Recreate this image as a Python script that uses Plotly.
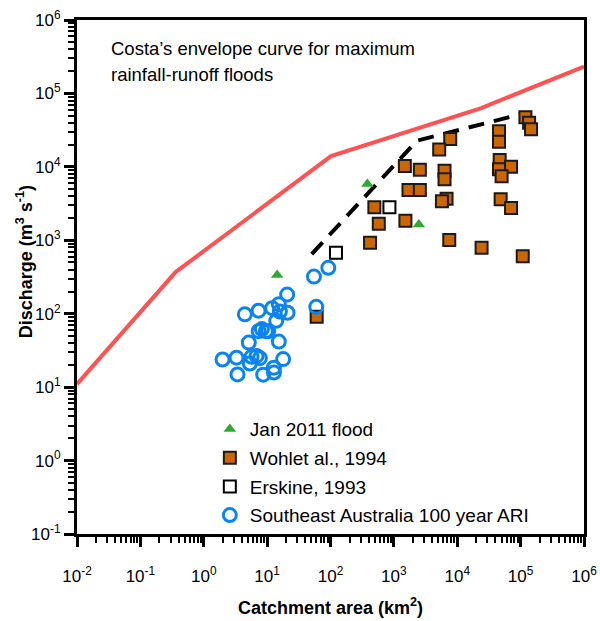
import plotly.graph_objects as go

# ---------------- data ----------------
costa_x = [0.01, 0.36, 102, 23900, 1e6]
costa_y = [11, 369, 14000, 63200, 232000]

dash_x = [50.5, 2310, 119000]
dash_y = [649, 22700, 54100]

jan2011_x = [14.4, 382, 2480]
jan2011_y = [336, 5830, 1640]

wohl_x = [119000, 136000, 146000, 45600, 45600, 7750, 5190, 46700, 1490, 2570,
          6300, 45600, 70600, 6300, 50100, 1700, 2570, 6780, 5730, 48400,
          70600, 492, 578, 1520, 421, 7480, 24200, 108000, 60.5]
wohl_y = [47200, 39900, 32400, 30500, 22000, 23900, 17300, 12400, 10300, 9130,
          8850, 9250, 10000, 6760, 7430, 4830, 4830, 3680, 3390, 3610,
          2750, 2810, 1680, 1840, 925, 1010, 790, 604, 90.8]

erskine_x = [122, 851]
erskine_y = [676, 2817]

sea_x = [54.8, 92.3, 20.7, 59.6, 4.45, 7.33, 12.0, 15.3, 15.9, 21.0,
         13.9, 8.26, 9.55, 10.4, 7.35, 15.3, 5.14, 1.98, 3.29, 5.68,
         6.81, 7.68, 5.34, 17.9, 3.41, 8.66, 12.8, 12.8]
sea_y = [320, 422, 182, 124, 98, 110, 119, 135, 107, 103,
         80, 61.7, 57.9, 57.9, 57.9, 41.7, 40.4, 23.8, 25.2, 25.9,
         26.6, 24.8, 21.0, 24.1, 14.9, 14.8, 18.4, 15.8]

x_exponents = [-2, -1, 0, 1, 2, 3, 4, 5, 6]
y_exponents = [-1, 0, 1, 2, 3, 4, 5, 6]

# ---------------- figure ----------------
FONT = "Liberation Sans, Arial, Helvetica, sans-serif"

fig = go.Figure()

fig.add_trace(go.Scatter(x=costa_x, y=costa_y, mode="lines",
                         line=dict(color="#ff5252", width=4),
                         showlegend=False, hoverinfo="skip"))
fig.add_trace(go.Scatter(x=dash_x, y=dash_y, mode="lines",
                         line=dict(color="black", width=4, dash="16px,10px"),
                         showlegend=False, hoverinfo="skip"))

fig.add_trace(go.Scatter(x=jan2011_x, y=jan2011_y, mode="markers",
                         name="Jan 2011 flood", legendgroup="a",
                         marker=dict(symbol="triangle-up", size=11, color="#2eaa2e",
                                     line=dict(width=0))))
fig.add_trace(go.Scatter(x=wohl_x, y=wohl_y, mode="markers",
                         name="Wohlet al., 1994", legendgroup="b",
                         marker=dict(symbol="square", size=12, color="#cc6600",
                                     line=dict(color="#1a1a1a", width=2))))
fig.add_trace(go.Scatter(x=erskine_x, y=erskine_y, mode="markers",
                         name="Erskine, 1993", legendgroup="c",
                         marker=dict(symbol="square", size=12, color="white",
                                     line=dict(color="black", width=2))))
fig.add_trace(go.Scatter(x=sea_x, y=sea_y, mode="markers",
                         name="Southeast Australia 100 year ARI", legendgroup="d",
                         marker=dict(symbol="circle-open", size=13, color="#0a84f5",
                                     line=dict(color="#0a84f5", width=3))))


def sup_label(p):
    return "10<sup>%d</sup>" % p


def minor_vals(lo, hi):
    return [m * 10 ** e for e in range(lo, hi) for m in range(2, 10)]


axis_common = dict(
    type="log",
    showgrid=False,
    zeroline=False,
    showline=True,
    linecolor="black",
    linewidth=3,
    mirror=True,
    ticks="outside",
    ticklen=10,
    tickwidth=3,
    tickcolor="black",
    tickfont=dict(family=FONT, size=17, color="black"),
    tickmode="array",
    automargin=False,
)

fig.update_xaxes(
    **axis_common,
    range=[-2, 6],
    tickvals=[10 ** p for p in x_exponents],
    ticktext=[sup_label(p) for p in x_exponents],
    ticklabelstandoff=15,
    minor=dict(ticks="outside", ticklen=6, tickwidth=2, tickcolor="black",
               tickmode="array", tickvals=minor_vals(-2, 6), showgrid=False),
)
fig.update_yaxes(
    **axis_common,
    range=[-1, 6],
    tickvals=[10 ** p for p in y_exponents],
    ticktext=[sup_label(p) for p in y_exponents],
    minor=dict(ticks="outside", ticklen=6, tickwidth=2, tickcolor="black",
               tickmode="array", tickvals=minor_vals(-1, 6), showgrid=False),
)

# axis titles
fig.add_annotation(text="<b>Catchment area (km<sup>2</sup>)</b>", xref="paper", yref="paper",
                   x=0.5, y=-0.142, xanchor="center", yanchor="middle", showarrow=False,
                   font=dict(family=FONT, size=18, color="black"))
fig.add_annotation(text="<b>Discharge (m<sup>3</sup> s<sup>-1</sup>)</b>", xref="paper", yref="paper",
                   x=-0.104, y=0.529, xanchor="center", yanchor="middle", showarrow=False,
                   textangle=-90, font=dict(family=FONT, size=18, color="black"))

fig.add_annotation(text="Costa’s envelope curve for maximum", xref="paper", yref="paper",
                   x=0.063, y=0.944, xanchor="left", yanchor="middle", showarrow=False,
                   font=dict(family=FONT, size=18.5, color="black"))
fig.add_annotation(text="rainfall-runoff floods", xref="paper", yref="paper",
                   x=0.063, y=0.893, xanchor="left", yanchor="middle", showarrow=False,
                   font=dict(family=FONT, size=18.5, color="black"))

fig.update_layout(
    width=600, height=621,
    margin=dict(l=77, r=16, t=20, b=87),
    paper_bgcolor="white",
    plot_bgcolor="white",
    font=dict(family=FONT, color="black"),
    showlegend=True,
    legend=dict(x=0.262, y=0.241, xanchor="left", yanchor="top",
                bgcolor="rgba(0,0,0,0)", font=dict(family=FONT, size=19),
                tracegroupgap=1, itemsizing="trace"),
)

fig.write_html("out.html")
